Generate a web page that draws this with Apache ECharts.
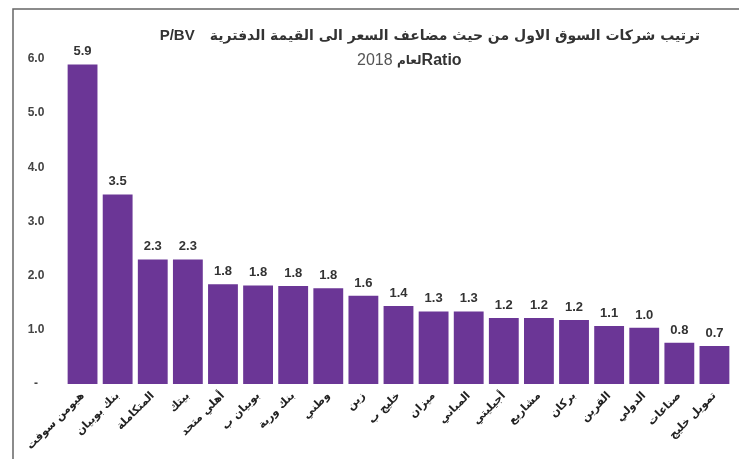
<!DOCTYPE html>
<html>
<head>
<meta charset="utf-8">
<script src="https://cdn.jsdelivr.net/npm/echarts@6/dist/echarts.min.js"></script>
<style>
  html, body { margin: 0; padding: 0; background: #fff; }
  #main { width: 739px; height: 459px; }
</style>
</head>
<body>
<div id="main"></div>
<script>
    // الشركات والقيم
    var companies = ["هيومن سوفت", "بنك بوبيان", "المتكاملة", "بيتك", "أهلي متحد", "بوبيان ب",
        "بنك وربة", "وطني", "زين", "خليج ب", "ميزان", "المباني", "أجيليتي", "مشاريع",
        "بركان", "القرين", "الدولي", "صناعات", "تمويل خليج"];
    var pbv = [5.9, 3.5, 2.3, 2.3, 1.84, 1.82, 1.81, 1.77, 1.63, 1.44, 1.34, 1.34, 1.22, 1.22, 1.18, 1.07, 1.04, 0.76, 0.70];
    var yTicks = [0, 1, 2, 3, 4, 5, 6];

    var arFont = "DejaVu Sans";
    var chart = echarts.init(document.getElementById("main"));

    chart.setOption({
        animation: false,
        title: [{
            right: 34,
            top: 22,
            text: "{en|P/BV}   {ar|ترتيب شركات السوق الاول من حيث مضاعف السعر الى القيمة الدفترية}",
            textStyle: {
                rich: {
                    en: { fontFamily: "Liberation Sans", fontWeight: "bold", fontSize: 15, color: "#333" },
                    ar: { fontFamily: arFont, fontWeight: "bold", fontSize: 14, color: "#333" }
                }
            }
        }, {
            left: 352,
            top: 48,
            text: "{n|2018 }{ar|لعام}{en|Ratio}",
            textStyle: {
                fontWeight: "normal",
                rich: {
                    n: { fontFamily: "Liberation Sans", fontWeight: "normal", fontSize: 16, color: "#555" },
                    ar: { fontFamily: arFont, fontWeight: "bold", fontSize: 12, color: "#333" },
                    en: { fontFamily: "Liberation Sans", fontWeight: "bold", fontSize: 16, color: "#333" }
                }
            }
        }],
        graphic: [{
            type: "polyline",
            shape: { points: [[13, 459], [13, 9], [739, 9]] },
            style: { stroke: "#666", lineWidth: 1.5, fill: null }
        }],
        grid: { left: 65, right: 7, top: 59, bottom: 75 },
        xAxis: {
            type: "category",
            data: companies,
            axisLine: { show: false },
            axisTick: { show: false },
            axisLabel: {
                interval: 0,
                rotate: 45,
                margin: 10,
                fontFamily: arFont,
                fontWeight: "bold",
                fontSize: 11,
                color: "#222"
            }
        },
        yAxis: {
            type: "value",
            min: 0,
            max: 6,
            interval: 1,
            splitLine: { show: false },
            axisLine: { show: false },
            axisTick: { show: false },
            axisLabel: {
                align: "center",
                margin: 29,
                fontFamily: "Liberation Sans",
                fontWeight: "bold",
                fontSize: 12,
                color: "#444",
                formatter: function (v) {
                    return yTicks.indexOf(v) === 0 ? "-" : v.toFixed(1);
                }
            }
        },
        series: [{
            type: "bar",
            data: pbv,
            barCategoryGap: "15%",
            itemStyle: { color: "#6b3696" },
            label: {
                show: true,
                position: "top",
                distance: 6,
                fontFamily: "Liberation Sans",
                fontWeight: "bold",
                fontSize: 13,
                color: "#333",
                formatter: function (p) { return p.value.toFixed(1); }
            }
        }]
    });
</script>
</body>
</html>
